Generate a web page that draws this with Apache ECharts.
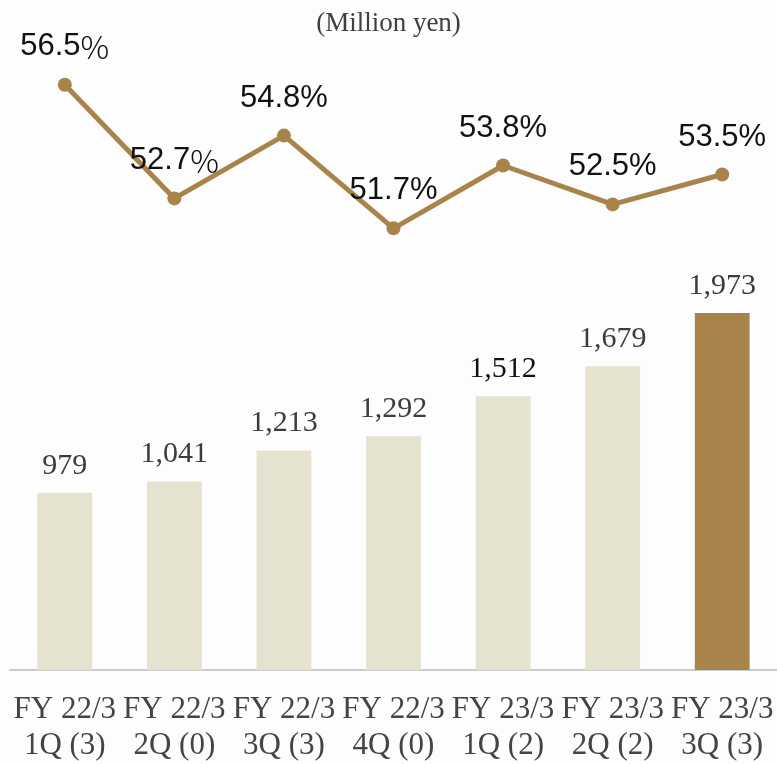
<!DOCTYPE html>
<html>
<head>
<meta charset="utf-8">
<script src="https://cdn.jsdelivr.net/npm/echarts@6/dist/echarts.min.js"></script>
<style>
  html, body { margin: 0; padding: 0; background: #fdfdfd; }
  #chart { width: 777px; height: 764px; }
</style>
</head>
<body>
<div id="chart"></div>
<script>
// Quarterly results: net sales (million yen) and gross margin (%)
const categories = [
  'FY 22/3\n1Q (3)', 'FY 22/3\n2Q (0)', 'FY 22/3\n3Q (3)', 'FY 22/3\n4Q (0)',
  'FY 23/3\n1Q (2)', 'FY 23/3\n2Q (2)', 'FY 23/3\n3Q (3)'
];
const salesValues = [979, 1041, 1213, 1292, 1512, 1679, 1973];
const marginValues = [56.5, 52.7, 54.8, 51.7, 53.8, 52.5, 53.5];
const unitLabel = '(Million yen)';

const GOLD = '#a8844a';
const BEIGE = '#e5e2d0';
const SERIF = '"Liberation Serif", "Times New Roman", serif';
const SANS = '"Liberation Sans", Arial, sans-serif';

const barData = salesValues.map((v, i) => ({
  value: v,
  itemStyle: { color: i === salesValues.length - 1 ? GOLD : BEIGE },
  label: i === 4 ? { color: '#111' } : undefined
}));

const chart = echarts.init(document.getElementById('chart'), null, { renderer: 'canvas' });
chart.setOption({
  backgroundColor: '#fdfdfd',
  animation: false,
  title: {
    text: unitLabel,
    left: 'center',
    top: 5,
    textStyle: { fontFamily: SERIF, fontSize: 27, fontWeight: 'normal', color: '#404040' }
  },
  grid: { left: 10, right: -3, top: 10, bottom: 92 },
  xAxis: {
    type: 'category',
    data: categories,
    axisLine: { lineStyle: { color: '#cccccc', width: 2 } },
    axisTick: { length: 10, lineStyle: { color: '#cccccc', width: 2 } },
    axisLabel: {
      interval: 0,
      margin: 22,
      fontFamily: SERIF,
      fontSize: 31,
      lineHeight: 36,
      color: '#444444'
    }
  },
  yAxis: [
    { type: 'value', min: 0, max: 3647, show: false },
    { type: 'value', min: 36.93, max: 59, show: false }
  ],
  series: [
    {
      type: 'bar',
      yAxisIndex: 0,
      barWidth: '50%',
      data: barData,
      label: {
        show: true,
        position: 'top',
        distance: 12,
        fontFamily: SERIF,
        fontSize: 30,
        color: '#3c3c3c',
        formatter: p => p.value.toLocaleString('en-US')
      }
    },
    {
      type: 'line',
      yAxisIndex: 1,
      data: marginValues,
      symbol: 'circle',
      symbolSize: 14,
      lineStyle: { color: GOLD, width: 5 },
      itemStyle: { color: GOLD },
      label: {
        show: true,
        position: 'top',
        distance: 15,
        fontFamily: SANS,
        fontSize: 31,
        color: '#111111',
        formatter: p => p.dataIndex < 2
          ? p.value.toFixed(1) + '{pct|%}'
          : p.value.toFixed(1) + '%',
        rich: {
          pct: {
            fontFamily: '"Noto Sans CJK JP", sans-serif',
            fontSize: 32,
            fontWeight: 300,
            color: '#111111'
          }
        }
      }
    }
  ]
});
</script>
</body>
</html>
